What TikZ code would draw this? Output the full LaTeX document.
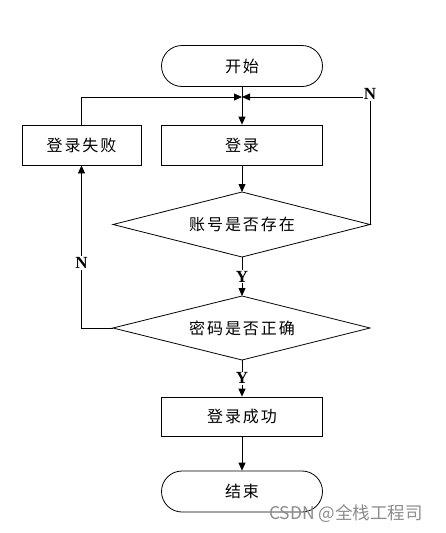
\documentclass[tikz,border=0pt]{standalone}
\usepackage{fontspec}
\setmainfont{Liberation Serif}
\newfontfamily\cjk{Noto Sans CJK SC}
\newfontfamily\cjkwide[LetterSpace=12]{Noto Sans CJK SC}
\usetikzlibrary{shapes.misc,arrows.meta}
\begin{document}
\begin{tikzpicture}[x=1pt,y=-1pt,
  base/.style={draw, line width=0.8pt, inner sep=0pt, font=\cjkwide\fontsize{16}{18}\selectfont},
  proc/.style={base, rectangle, minimum width=161pt, minimum height=40pt},
  term/.style={base, rounded rectangle, minimum width=161pt, minimum height=41pt},
  txt/.style={inner sep=0pt, font=\cjkwide\fontsize{16}{18}\selectfont},
  arr/.style={line width=0.8pt, -{Triangle[length=8pt,width=7pt]}},
  ln/.style={line width=0.8pt},
  yn/.style={font=\bfseries\fontsize{17}{17}\selectfont, fill=white, inner sep=1pt}]
\useasboundingbox (0,0) rectangle (445,533);
\node[term] (start) at (242,66) {开始};
\node[proc] (login) at (242,145) {登录};
\node[proc, minimum width=119pt] (fail) at (81.5,145) {登录失败};
% decision 1
\coordinate (d1n) at (242,192);
\coordinate (d1s) at (242,257);
\coordinate (d1w) at (113,224.5);
\coordinate (d1e) at (370,224.5);
\draw[ln] (d1n) -- (d1e) -- (d1s) -- (d1w) -- cycle;
\node[txt] (d1) at (242,224.5) {账号是否存在};
% decision 2
\coordinate (d2n) at (242,296);
\coordinate (d2s) at (242,360);
\coordinate (d2w) at (113,328);
\coordinate (d2e) at (370,328);
\draw[ln] (d2n) -- (d2e) -- (d2s) -- (d2w) -- cycle;
\node[txt] (d2) at (242,328) {密码是否正确};
\node[proc, minimum height=39pt] (succ) at (242,416.5) {登录成功};
\node[term] (end) at (242,491.5) {结束};
\coordinate (j) at (242,97);
\draw[ln] (start) -- (j);
\draw[arr] (j) -- (login);
\draw[arr] (login) -- (d1n);
\draw[arr] (fail.north) -- (fail.north |- j) -- (j);
\draw[arr] (d1e) -- (d1e |- j) -- (j);
\node[yn] (n1) at ([yshift=3pt]d1e |- j) {N};
\draw[arr] (d1s) -- node[yn] (y1) {Y} (d2n);
\draw[arr] (d2w) -| node[yn, pos=0.7] (n2) {N} (fail.south);
\draw[arr] (d2s) -- node[yn] (y2) {Y} (succ);
\draw[arr] (succ) -- (end);
\node[text=black!45, font=\cjk\fontsize{17.5}{18}\selectfont, inner sep=0pt] (wm) at (346,514) {CSDN @全栈工程司};
\end{tikzpicture}
\end{document}
